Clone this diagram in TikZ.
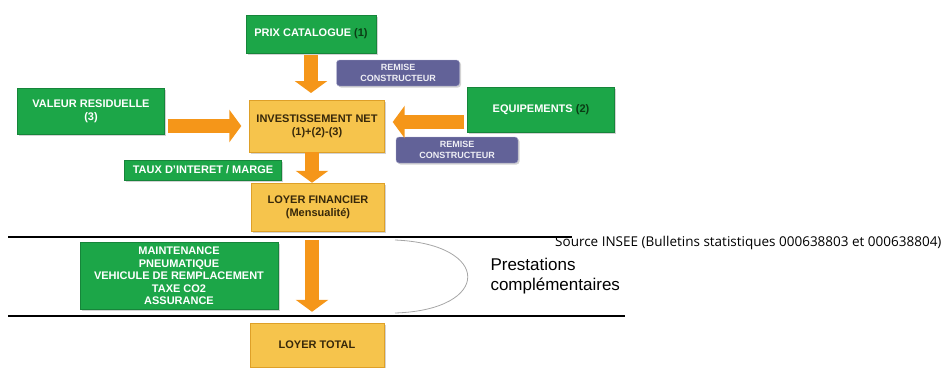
\documentclass[tikz,border=0pt]{standalone}
\usepackage{fontspec}
\setmainfont{Liberation Sans}
\newfontfamily\sourcefont{Open Sans}
\usepackage{tikz}
\usetikzlibrary{positioning,arrows.meta,shadows}

\definecolor{vert}{RGB}{28,166,72}
\definecolor{vertfonce}{RGB}{10,60,20}
\definecolor{jaune}{RGB}{246,196,76}
\definecolor{jaunebord}{RGB}{222,160,40}
\definecolor{mauve}{RGB}{98,98,152}
\definecolor{mauvebord}{RGB}{170,170,205}
\definecolor{orange}{RGB}{245,150,25}
\definecolor{brun}{RGB}{55,40,10}

\tikzset{
    boite/.style={rectangle, align=center, font=\bfseries\fontsize{11}{13}\selectfont,
        inner sep=2pt, drop shadow={opacity=0.35, shadow xshift=1.5pt, shadow yshift=-1.5pt}},
    vertbox/.style={boite, fill=vert, draw=vert!80!black, text=white},
    jaunebox/.style={boite, fill=jaune, draw=jaunebord, text=brun},
    remisebox/.style={boite, fill=mauve, draw=mauvebord, text=white!90!mauve,
        rounded corners=3pt, font=\bfseries\fontsize{9}{11}\selectfont},
    fleche/.style={draw=orange, line width=14pt, -{Triangle[width=32pt,length=12pt]}},
    trait/.style={line width=1.6pt, black}
}

\begin{document}
\begin{tikzpicture}[x=1pt, y=-1pt]
    \useasboundingbox (0,0) rectangle (952,367);

    % Define nodes
    \node[vertbox, minimum width=130, minimum height=38] (prix) at (311,34)
        {PRIX CATALOGUE \textcolor{vertfonce}{(1)}};
    \node[remisebox, minimum width=123, minimum height=26] (remiseA) at (398,73)
        {REMISE\\CONSTRUCTEUR};
    \node[vertbox, minimum width=147, minimum height=46] (valeur) at (91,111)
        {VALEUR RESIDUELLE\\(3)};
    \node[jaunebox, minimum width=135, minimum height=52]
        (invest) at (317,126) {INVESTISSEMENT NET\\(1)+(2)-(3)};
    \node[vertbox, minimum width=147, minimum height=45] (equip) at (541,110)
        {EQUIPEMENTS \textcolor{vertfonce}{(2)}};
    \node[remisebox, minimum width=122, minimum height=26] (remiseB) at (457,150)
        {REMISE\\CONSTRUCTEUR};
    \node[vertbox, minimum width=157, minimum height=20, inner sep=1pt] (taux) at (203,170)
        {TAUX D'INTERET / MARGE};
    \node[jaunebox, minimum width=133, minimum height=48] (financier) at (318,207)
        {LOYER FINANCIER\\(Mensualité)};
    \node[vertbox, minimum width=198, minimum height=67, inner sep=1pt,
        font=\bfseries\fontsize{11}{12.5}\selectfont] (services) at (179,276)
        {MAINTENANCE\\PNEUMATIQUE\\VEHICULE DE REMPLACEMENT\\TAXE CO2\\ASSURANCE};
    \node[jaunebox, minimum width=134, minimum height=44] (total) at (317,345) {LOYER TOTAL};

    \node[align=left, anchor=west, font=\fontsize{17}{20}\selectfont] (prestations) at (487,276)
        {Prestations\\complémentaires};
    \node[anchor=west, font=\sourcefont\fontsize{13.5}{15}\selectfont, inner sep=0pt] (source) at (555,243)
        {Source INSEE (Bulletins statistiques 000638803 et 000638804)};

    % Connect nodes
    \draw[fleche] (prix.south) ++(0,2) -- (311,93);
    \draw[fleche] (valeur.east |- invest.west) ++(3,0) -- ([xshift=-8pt]invest.west);
    \draw[fleche] ([yshift=-12pt]equip.west) ++(-3,0) -- ([xshift=8pt, yshift=4pt]invest.east);
    \draw[fleche] ([xshift=-5pt]invest.south) -- ([xshift=-6pt]financier.north);
    \draw[fleche] ([xshift=-6pt, yshift=-9pt]financier.south) -- ([xshift=-5pt, yshift=11pt]total.north);

    % separators and brace
    \draw[trait] (8,237) -- (572,237);
    \draw[trait] (8,316) -- (625,316);
    \draw[gray!70, thick] (395,240) .. controls (492,244) and (492,310) .. (395,313);
\end{tikzpicture}
\end{document}
